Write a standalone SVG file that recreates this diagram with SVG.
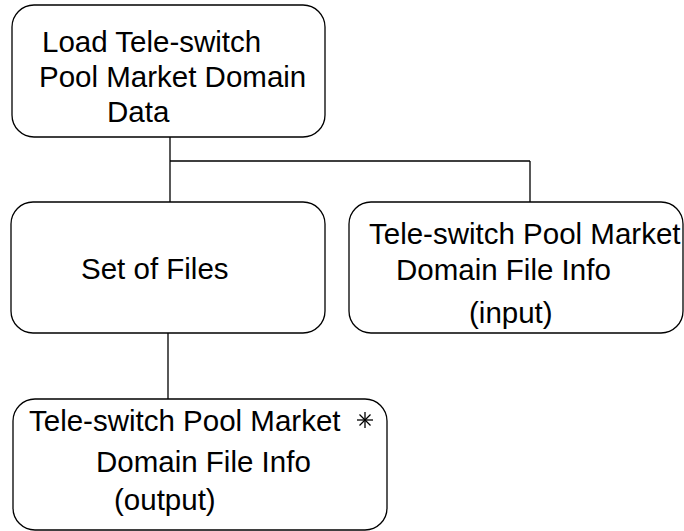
<svg xmlns="http://www.w3.org/2000/svg" width="684" height="531" viewBox="0 0 684 531">
<style>
.box{fill:#fff;stroke:#000;stroke-width:1.3}
.t{font-family:"Liberation Sans",Arial,sans-serif;font-size:29.5px;fill:#000}
.c{stroke:#000;stroke-width:1.3;fill:none}
</style>
<rect width="684" height="531" fill="#fff"/>
<g id="connectors">
<path class="c" d="M170 137 V161 M170 161 H530 M170 161 V202 M530 161 V202 M168 333 V399"/>
</g>
<g id="n1">
<rect class="box" x="12" y="5" width="313" height="132" rx="22"/>
<text class="t" x="42" y="52">Load Tele-switch</text>
<text class="t" x="39" y="87">Pool Market Domain</text>
<text class="t" x="107" y="122">Data</text>
</g>
<g id="n2">
<rect class="box" x="11" y="202" width="314" height="131" rx="22"/>
<text class="t" x="81" y="279">Set of Files</text>
</g>
<g id="n3">
<rect class="box" x="349" y="202" width="334" height="131" rx="22"/>
<text class="t" x="369" y="244">Tele-switch Pool Market</text>
<text class="t" x="396" y="280">Domain File Info</text>
<text class="t" x="469" y="323">(input)</text>
</g>
<g id="n4">
<rect class="box" x="13" y="399" width="374" height="131" rx="22"/>
<text class="t" x="29" y="431">Tele-switch Pool Market</text>
<text class="t" x="96" y="472">Domain File Info</text>
<text class="t" x="114" y="510">(output)</text>
<g class="c" stroke-width="1.2">
<line x1="365" y1="412" x2="365" y2="428"/>
<line x1="357" y1="420" x2="373" y2="420"/>
<line x1="359.5" y1="414.5" x2="370.5" y2="425.5"/>
<line x1="370.5" y1="414.5" x2="359.5" y2="425.5"/>
</g>
</g>
</svg>
